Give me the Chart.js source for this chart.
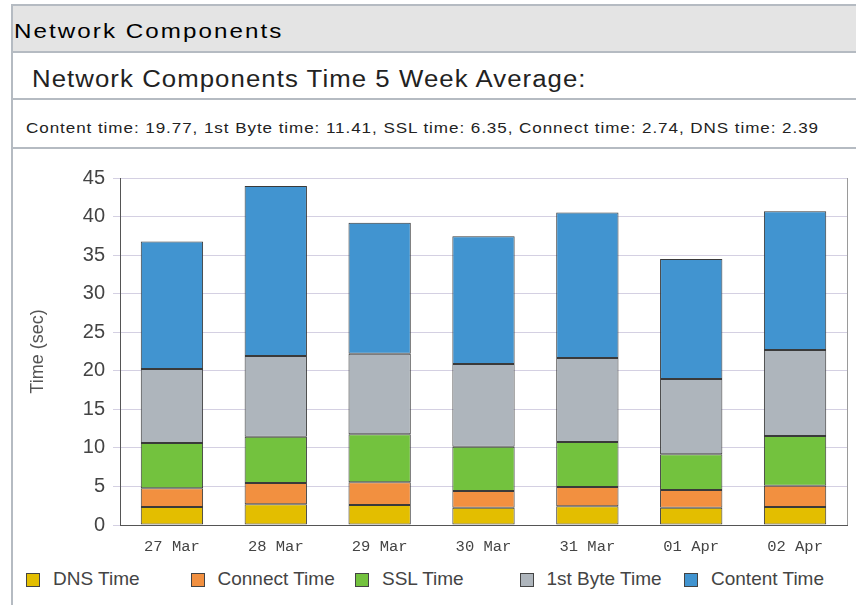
<!DOCTYPE html>
<html>
<head>
<meta charset="utf-8">
<script src="https://cdn.jsdelivr.net/npm/chart.js@4.4.0/dist/chart.umd.min.js"></script>
<style>
  body { margin: 0; width: 856px; height: 605px; overflow: hidden; background: #fff; position: relative; font-family: "Liberation Sans", Arial, sans-serif; }
  .line { position: absolute; background: #b5bbc2; }
  .txt { position: absolute; white-space: nowrap; transform-origin: 0 0; }
  #legend { position: absolute; left: 26px; top: 570px; height: 20px; }
  .item { position: absolute; top: 0; height: 20px; line-height: 20px; font-size: 19px; color: #444; white-space: nowrap; }
  .box { position: absolute; left: 0; top: 3px; width: 12px; height: 12px; border: 1px solid #444; }
  .item span { position: absolute; left: 27px; top: -1px; }
</style>
</head>
<body>
<div class="line" style="left:11px;top:4px;width:2px;height:601px"></div>
<div class="line" style="left:11px;top:4px;width:845px;height:2px"></div>
<div style="position:absolute;left:13px;top:6px;width:843px;height:45px;background:#e4e4e4"></div>
<div class="line" style="left:13px;top:51px;width:843px;height:2px"></div>
<div class="line" style="left:13px;top:98px;width:843px;height:2px"></div>
<div class="line" style="left:13px;top:147px;width:843px;height:2px"></div>

<div class="txt" style="left:14px;top:20px;font-size:21px;line-height:21px;color:#000;letter-spacing:1.8px;transform:scaleX(1.15)">Network Components</div>
<div class="txt" style="left:32px;top:68px;font-size:23px;line-height:23px;color:#222;letter-spacing:0.95px;transform:scaleX(1.12)">Network Components Time 5 Week Average:</div>
<div class="txt" style="left:26px;top:120px;font-size:15.5px;line-height:15.5px;color:#222;letter-spacing:0.85px;transform:scaleX(1.1)" id="summary"></div>

<div style="position:absolute;left:12px;top:150px;width:844px;height:410px">
  <canvas id="myChart"></canvas>
</div>
<div id="legend"></div>

<script>
var dias = ["27 Mar", "28 Mar", "29 Mar", "30 Mar", "31 Mar", "01 Apr", "02 Apr"]
var dnsTime = [2.33, 2.68, 2.59, 2.25, 2.42, 2.25, 2.33]
var connectTime = [2.43, 2.77, 2.94, 2.16, 2.51, 2.29, 2.77]
var sslTime = [5.88, 6.01, 6.23, 5.75, 5.84, 4.63, 6.44]
var firstByteTime = [9.59, 10.46, 10.46, 10.72, 10.89, 9.77, 11.16]
var contentTime = [16.52, 22.05, 16.99, 16.56, 18.85, 15.56, 17.98]

var serieNomes = ["DNS Time", "Connect Time", "SSL Time", "1st Byte Time", "Content Time"]
var serieCores = ["#e3be00", "#f29040", "#73c23e", "#aeb5bc", "#4194d0"]
var mediaNomes = ["Content time", "1st Byte time", "SSL time", "Connect time", "DNS time"]
var mediaValores = ["19.77", "11.41", "6.35", "2.74", "2.39"]

var textoMedia = mediaNomes.map(function (n, i) { return n + ": " + mediaValores[i] }).join(", ")
document.getElementById("summary").textContent = textoMedia

var valores = [dnsTime, connectTime, sslTime, firstByteTime, contentTime]
var datasets = valores.map(function (v, i) {
    return {
        label: serieNomes[i],
        data: v,
        backgroundColor: serieCores[i],
        borderColor: "#3a3a3a",
        borderWidth: 1,
        borderSkipped: false,
        barPercentage: 0.6,
        categoryPercentage: 1.0
    }
})

// linha da direita do grafico
var molduraDireita = {
    id: "molduraDireita",
    afterDraw: function (chart) {
        var ctx = chart.ctx
        var a = chart.chartArea
        ctx.save()
        ctx.strokeStyle = "#9a9a9a"
        ctx.lineWidth = 1
        ctx.beginPath()
        ctx.moveTo(Math.round(a.right) + 0.5, a.top)
        ctx.lineTo(Math.round(a.right) + 0.5, a.bottom)
        ctx.stroke()
        ctx.restore()
    }
}

var myChartRef = document.getElementById("myChart").getContext("2d")
var grafico = new Chart(myChartRef, {
    type: "bar",
    data: {
        labels: dias,
        datasets: datasets
    },
    options: {
        responsive: true,
        maintainAspectRatio: false,
        animation: false,
        layout: { padding: { top: 28, right: 9, left: 0, bottom: 0 } },
        plugins: {
            legend: { display: false },
            tooltip: { enabled: false }
        },
        scales: {
            x: {
                stacked: true,
                grid: { display: false },
                border: { color: "#555", width: 1 },
                ticks: {
                    color: "#444",
                    padding: 5,
                    font: { family: "'Liberation Mono', 'Courier New', monospace", size: 15.5 }
                },
                afterFit: function (scale) { scale.height = 35 }
            },
            y: {
                stacked: true,
                min: 0,
                max: 45,
                ticks: {
                    stepSize: 5,
                    color: "#444",
                    padding: 8,
                    font: { family: "'Liberation Sans', Arial, sans-serif", size: 20 }
                },
                grid: { color: "#d4d0e2", tickLength: 7, tickColor: "#d4d0e2" },
                border: { color: "#555", width: 1 },
                title: {
                    display: true,
                    text: "Time (sec)",
                    color: "#555",
                    padding: { top: 15, bottom: 0 },
                    font: { family: "'Liberation Sans', Arial, sans-serif", size: 18 }
                },
                afterFit: function (scale) { scale.width = 108 }
            }
        }
    },
    plugins: [molduraDireita]
})

// legenda em colunas
var legenda = document.getElementById("legend")
serieNomes.forEach(function (nome, i) {
    var item = document.createElement("div")
    item.className = "item"
    item.style.left = (i * 164.5) + "px"
    var box = document.createElement("div")
    box.className = "box"
    box.style.background = serieCores[i]
    var span = document.createElement("span")
    span.textContent = nome
    item.appendChild(box)
    item.appendChild(span)
    legenda.appendChild(item)
})
</script>
</body>
</html>
